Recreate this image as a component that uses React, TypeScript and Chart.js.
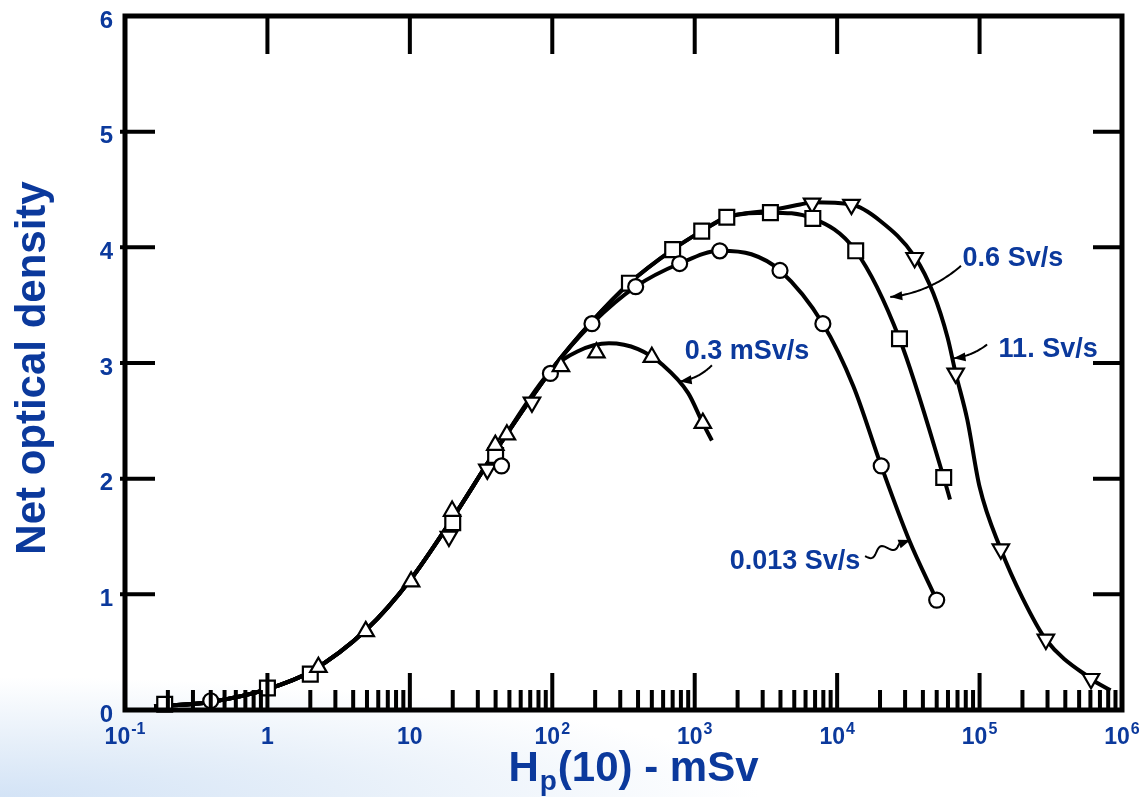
import React, { useEffect, useRef } from 'react';
import { Chart, registerables } from 'chart.js';

Chart.register(...registerables);

const BLUE = '#0b399c';
const FONT = '"Liberation Sans", Arial, Helvetica, sans-serif';

// ---- shared rising part of all curves ----
const RISE_X = [0.16, 0.4, 1, 2, 5, 10, 20, 40, 100];
const RISE_Y = [0.03, 0.07, 0.18, 0.33, 0.7, 1.12, 1.66, 2.24, 2.95];

// ---- curve branches (after the shared rise) ----
const B03_X = [150, 250, 400, 600, 900, 1140, 1320];
const B03_Y = [3.1, 3.17, 3.12, 2.98, 2.74, 2.48, 2.33];

const B013_X = [190, 385, 784, 1500, 2500, 3970, 7940, 13000, 20400, 32000, 50000];
const B013_Y = [3.34, 3.66, 3.86, 3.97, 3.94, 3.8, 3.34, 2.8, 2.11, 1.47, 0.95];

const B06_X = [190, 348, 700, 1120, 1680, 3400, 6750, 13500, 27400, 56000, 62000];
const B06_Y = [3.36, 3.69, 3.98, 4.14, 4.26, 4.3, 4.25, 3.97, 3.21, 2.01, 1.82];

const B11_X = [190, 348, 700, 1120, 1680, 3400, 5500, 6670, 12600, 20000, 35000, 47400, 59600, 68000, 82000, 100000, 141000, 200000, 292000, 606000, 830000];
const B11_Y = [3.36, 3.69, 3.98, 4.14, 4.26, 4.32, 4.37, 4.39, 4.37, 4.23, 3.92, 3.6, 3.22, 2.91, 2.51, 1.93, 1.39, 0.97, 0.61, 0.27, 0.17];

// ---- markers ----
const TRI_UP_X = [2.28, 4.9, 10.2, 19.8, 39.8, 48, 115, 204, 500, 1140];
const TRI_UP_Y = [0.37, 0.68, 1.11, 1.72, 2.29, 2.38, 2.97, 3.09, 3.05, 2.48];

const CIRCLE_X = [0.4, 44, 97, 190, 385, 784, 1500, 3970, 7940, 20400, 50000];
const CIRCLE_Y = [0.08, 2.11, 2.91, 3.34, 3.66, 3.86, 3.97, 3.8, 3.34, 2.11, 0.95];

const SQUARE_X = [0.19, 1, 2, 20, 40, 348, 700, 1120, 1680, 3400, 6750, 13500, 27400, 56000];
const SQUARE_Y = [0.05, 0.19, 0.31, 1.62, 2.2, 3.69, 3.98, 4.14, 4.26, 4.3, 4.25, 3.97, 3.21, 2.01];

const TRI_DOWN_X = [18.8, 35, 72, 6670, 12600, 35000, 68000, 141000, 292000, 606000];
const TRI_DOWN_Y = [1.5, 2.08, 2.66, 4.38, 4.37, 3.91, 2.91, 1.39, 0.61, 0.27];

// ---- axes ----
const X_TICKS = [0.1, 1, 10, 100, 1000, 10000, 100000, 1000000];
const X_TICK_BASE = ['10', '1', '10', '10', '10', '10', '10', '10'];
const X_TICK_EXP = ['-1', '', '', '2', '3', '4', '5', '6'];
const Y_TICKS = [0, 1, 2, 3, 4, 5, 6];
const Y_TITLE = 'Net optical density';
const X_TITLE_MAIN = 'H';
const X_TITLE_SUB = 'p';
const X_TITLE_REST = '(10) - mSv';

// ---- annotations ----
const ANNOT_TEXT = ['0.3 mSv/s', '0.6 Sv/s', '11. Sv/s', '0.013 Sv/s'];
const ANNOT_X = [850, 76000, 136000, 1760];
const ANNOT_Y = [3.1, 3.9, 3.12, 1.28];
const ARROW_FROM_X = [1320, 74000, 113000, 15700];
const ARROW_FROM_Y = [2.98, 3.84, 3.16, 1.33];
const ARROW_TO_X = [784, 23600, 65600, 32700];
const ARROW_TO_Y = [2.84, 3.57, 3.04, 1.47];
const ARROW_BEND = [-6, -12, -5, 0];
const ARROW_WAVE = [0, 0, 0, 4];

const pts = (xs: number[], ys: number[]) => xs.map((x, i) => ({ x, y: ys[i] }));

const lineDs = (xs: number[], ys: number[]) => ({
  type: 'scatter' as const,
  data: pts([...RISE_X, ...xs], [...RISE_Y, ...ys]),
  showLine: true,
  borderColor: '#000',
  borderWidth: 4,
  pointRadius: 0,
  cubicInterpolationMode: 'monotone' as const,
  clip: false as any,
  order: 2,
});

const markerDs = (xs: number[], ys: number[], style: string, r: number, rot = 0) => ({
  type: 'scatter' as const,
  data: pts(xs, ys),
  showLine: false,
  pointStyle: style as any,
  pointRadius: r,
  pointRotation: rot,
  pointBackgroundColor: '#fff',
  pointBorderColor: '#000',
  pointBorderWidth: 2.2,
  clip: false as any,
  order: 1,
});

const framePlugin = {
  id: 'frameDecor',
  afterDatasetsDraw(chart: any) {
    const { ctx, chartArea: a, scales } = chart;
    const xs = scales.x;
    const ys = scales.y;
    ctx.save();
    ctx.strokeStyle = '#000';
    ctx.lineWidth = 4;
    ctx.beginPath();
    for (let d = -1; d < 6; d++) {
      for (let m = 1; m <= 9; m++) {
        const v = m * Math.pow(10, d);
        const px = xs.getPixelForValue(v);
        const len = m === 1 ? 37 : 20;
        ctx.moveTo(px, a.bottom);
        ctx.lineTo(px, a.bottom - len);
        if (m === 1) {
          ctx.moveTo(px, a.top);
          ctx.lineTo(px, a.top + 38);
        }
      }
    }
    for (let i = 1; i < Y_TICKS.length - 1; i++) {
      const py = ys.getPixelForValue(Y_TICKS[i]);
      ctx.moveTo(a.left - 5, py);
      ctx.lineTo(a.left + 30, py);
      ctx.moveTo(a.right, py);
      ctx.lineTo(a.right - 29, py);
    }
    ctx.stroke();
    ctx.lineWidth = 5;
    ctx.strokeRect(a.left, a.top, a.right - a.left, a.bottom - a.top);

    // tick labels
    ctx.fillStyle = BLUE;
    ctx.textBaseline = 'alphabetic';
    X_TICKS.forEach((v, i) => {
      const px = xs.getPixelForValue(v);
      ctx.font = `bold 23px ${FONT}`;
      const wb = ctx.measureText(X_TICK_BASE[i]).width;
      ctx.font = `bold 16px ${FONT}`;
      const we = X_TICK_EXP[i] ? ctx.measureText(X_TICK_EXP[i]).width + 1 : 0;
      const x0 = px - (wb + we) / 2;
      ctx.textAlign = 'left';
      ctx.font = `bold 23px ${FONT}`;
      ctx.fillText(X_TICK_BASE[i], x0, a.bottom + 34);
      if (X_TICK_EXP[i]) {
        ctx.font = `bold 16px ${FONT}`;
        ctx.fillText(X_TICK_EXP[i], x0 + wb + 1, a.bottom + 24);
      }
    });
    ctx.font = `bold 24px ${FONT}`;
    ctx.textAlign = 'right';
    ctx.textBaseline = 'middle';
    Y_TICKS.forEach((v) => {
      const py = ys.getPixelForValue(v);
      ctx.fillText(String(v), a.left - 12, py + 5);
    });

    // y title
    ctx.save();
    ctx.translate(33, (a.top + a.bottom) / 2 + 5);
    ctx.rotate(-Math.PI / 2);
    ctx.font = `bold 42px ${FONT}`;
    ctx.textAlign = 'center';
    ctx.textBaseline = 'middle';
    ctx.fillText(Y_TITLE, 0, 0);
    ctx.restore();

    // x title with subscript
    ctx.textAlign = 'left';
    ctx.textBaseline = 'alphabetic';
    ctx.font = `bold 42px ${FONT}`;
    const w1 = ctx.measureText(X_TITLE_MAIN).width;
    const w3 = ctx.measureText(X_TITLE_REST).width;
    ctx.font = `bold 28px ${FONT}`;
    const w2 = ctx.measureText(X_TITLE_SUB).width + 2;
    const cx = (xs.getPixelForValue(1000) + xs.getPixelForValue(100)) / 2 + 10;
    let tx = cx - (w1 + w2 + w3) / 2;
    const by = a.bottom + 71;
    ctx.font = `bold 42px ${FONT}`;
    ctx.fillText(X_TITLE_MAIN, tx, by);
    tx += w1;
    ctx.font = `bold 28px ${FONT}`;
    ctx.fillText(X_TITLE_SUB, tx + 1, by + 9);
    tx += w2;
    ctx.font = `bold 42px ${FONT}`;
    ctx.fillText(X_TITLE_REST, tx, by);

    // annotations
    ctx.font = `bold 27px ${FONT}`;
    ctx.textAlign = 'left';
    ctx.textBaseline = 'middle';
    ANNOT_TEXT.forEach((t, i) => {
      ctx.fillStyle = BLUE;
      ctx.fillText(t, xs.getPixelForValue(ANNOT_X[i]), ys.getPixelForValue(ANNOT_Y[i]));
      const x1 = xs.getPixelForValue(ARROW_FROM_X[i]);
      const y1 = ys.getPixelForValue(ARROW_FROM_Y[i]);
      const x2 = xs.getPixelForValue(ARROW_TO_X[i]);
      const y2 = ys.getPixelForValue(ARROW_TO_Y[i]);
      const dx = x2 - x1;
      const dy = y2 - y1;
      const len = Math.hypot(dx, dy);
      const nx = -dy / len;
      const ny = dx / len;
      const cxp = (x1 + x2) / 2 + nx * ARROW_BEND[i];
      const cyp = (y1 + y2) / 2 + ny * ARROW_BEND[i];
      ctx.strokeStyle = '#000';
      ctx.lineWidth = 2;
      ctx.beginPath();
      const N = 40;
      for (let k = 0; k <= N; k++) {
        const s = k / N;
        let px = (1 - s) * (1 - s) * x1 + 2 * (1 - s) * s * cxp + s * s * x2;
        let py = (1 - s) * (1 - s) * y1 + 2 * (1 - s) * s * cyp + s * s * y2;
        if (ARROW_WAVE[i] && s < 0.75) {
          const w = Math.sin(s * Math.PI * 4) * ARROW_WAVE[i];
          px += nx * w;
          py += ny * w;
        }
        if (k === 0) ctx.moveTo(px, py);
        else ctx.lineTo(px, py);
      }
      ctx.stroke();
      // arrowhead
      const tdx = x2 - cxp;
      const tdy = y2 - cyp;
      const tl = Math.hypot(tdx, tdy);
      const ux = tdx / tl;
      const uy = tdy / tl;
      ctx.fillStyle = '#000';
      ctx.beginPath();
      ctx.moveTo(x2, y2);
      ctx.lineTo(x2 - ux * 12 - uy * 4.5, y2 - uy * 12 + ux * 4.5);
      ctx.lineTo(x2 - ux * 12 + uy * 4.5, y2 - uy * 12 - ux * 4.5);
      ctx.closePath();
      ctx.fill();
    });
    ctx.restore();
  },
};

export default function App() {
  const ref = useRef<HTMLCanvasElement | null>(null);
  useEffect(() => {
    if (!ref.current) return;
    const chart = new Chart(ref.current, {
      type: 'scatter',
      data: {
        datasets: [
          lineDs(B03_X, B03_Y),
          lineDs(B013_X, B013_Y),
          lineDs(B06_X, B06_Y),
          lineDs(B11_X, B11_Y),
          markerDs(TRI_UP_X, TRI_UP_Y, 'triangle', 9.5),
          markerDs(CIRCLE_X, CIRCLE_Y, 'circle', 7.5),
          markerDs(SQUARE_X, SQUARE_Y, 'rect', 10.5),
          markerDs(TRI_DOWN_X, TRI_DOWN_Y, 'triangle', 9.5, 180),
        ] as any,
      },
      options: {
        animation: false,
        responsive: true,
        maintainAspectRatio: false,
        events: [],
        layout: { padding: { left: 125, right: 22, top: 16, bottom: 87 } },
        plugins: { legend: { display: false }, tooltip: { enabled: false } },
        scales: {
          x: { type: 'logarithmic', min: 0.1, max: 1000000, display: false },
          y: { type: 'linear', min: 0, max: 6, display: false },
        },
      },
      plugins: [framePlugin],
    });
    return () => chart.destroy();
  }, []);
  return (
    <div
      style={{
        position: 'fixed',
        left: 0,
        top: 0,
        width: 1144,
        height: 797,
        background:
          'radial-gradient(ellipse 760px 120px at 0px 797px, #d3e3f6 0%, #e6eff9 45%, rgba(255,255,255,0) 100%), #fff',
      }}
    >
      <canvas ref={ref} />
    </div>
  );
}
